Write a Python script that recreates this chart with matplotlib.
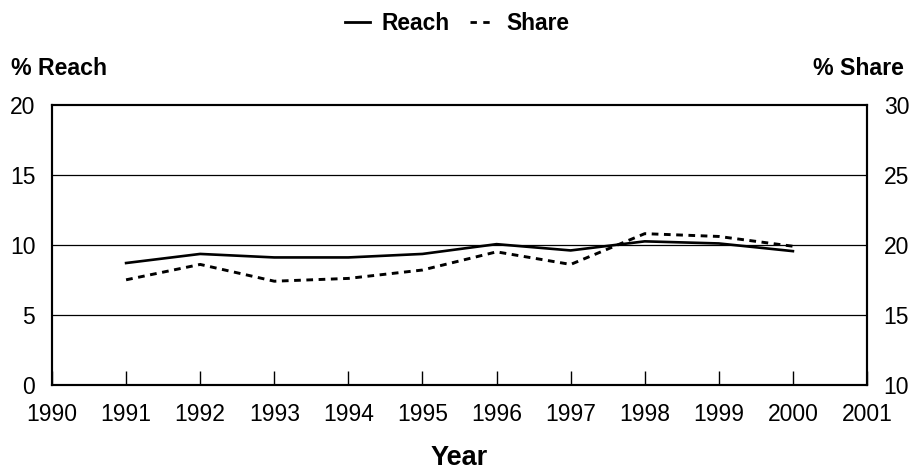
import matplotlib
matplotlib.use("Agg")
import matplotlib.pyplot as plt
from matplotlib.lines import Line2D

plt.rcParams['font.family'] = ['Liberation Sans', 'DejaVu Sans']

years = [1991, 1992, 1993, 1994, 1995, 1996, 1997, 1998, 1999, 2000]
reach = [8.7, 9.35, 9.1, 9.1, 9.35, 10.05, 9.6, 10.25, 10.1, 9.55]
share = [17.5, 18.6, 17.4, 17.6, 18.2, 19.5, 18.6, 20.8, 20.6, 19.9]
xticks = list(range(1990, 2002))
left_ticks = [0, 5, 10, 15, 20]
right_ticks = [10, 15, 20, 25, 30]

fig = plt.figure(figsize=(9.14, 4.70), dpi=100)
ax = fig.add_axes([52/914, 1-384.7/470, (867-52)/914, (384.7-105)/470])
ax2 = ax.twinx()

ax.plot(years, reach, color='black', lw=1.9)
ax2.plot(years, share, color='black', lw=2.1, linestyle=(0, (2.3, 1.9)))

ax.set_xlim(1990, 2001)
ax.set_ylim(0, 20)
ax2.set_ylim(10, 30)
ax.set_xticks(xticks)
ax.set_yticks(left_ticks)
ax2.set_yticks(right_ticks)
for y in [5, 10, 15]:
    ax.axhline(y, color='black', lw=0.9, zorder=0)

ax.tick_params(axis='x', direction='in', length=10, width=1, labelsize=16.5, pad=13.5)
ax.tick_params(axis='y', direction='in', length=0, labelsize=16.5, pad=12)
ax2.tick_params(axis='y', direction='in', length=0, labelsize=16.5, pad=12)
for a in (ax, ax2):
    for s in a.spines.values():
        s.set_linewidth(1.5)

ax.set_xlabel('Year', fontsize=19.5, fontweight='bold', labelpad=13)
fig.text(11/914, 1-68.5/470, '% Reach', fontsize=16.7, fontweight='bold', ha='left', va='center')
fig.text(904/914, 1-68.5/470, '% Share', fontsize=16.7, fontweight='bold', ha='right', va='center')

handles = [Line2D([], [], color='black', lw=2), Line2D([], [], color='black', lw=2, linestyle=(0, (2.3, 2.3)))]
fig.legend(handles, ['Reach', 'Share'], loc='center', bbox_to_anchor=(0.5, 1-23.5/470), ncol=2,
           frameon=False, handlelength=1.1, handletextpad=0.5, columnspacing=0.9,
           prop={'weight': 'bold', 'size': 16.4})

fig.savefig('out.png', dpi=100)
